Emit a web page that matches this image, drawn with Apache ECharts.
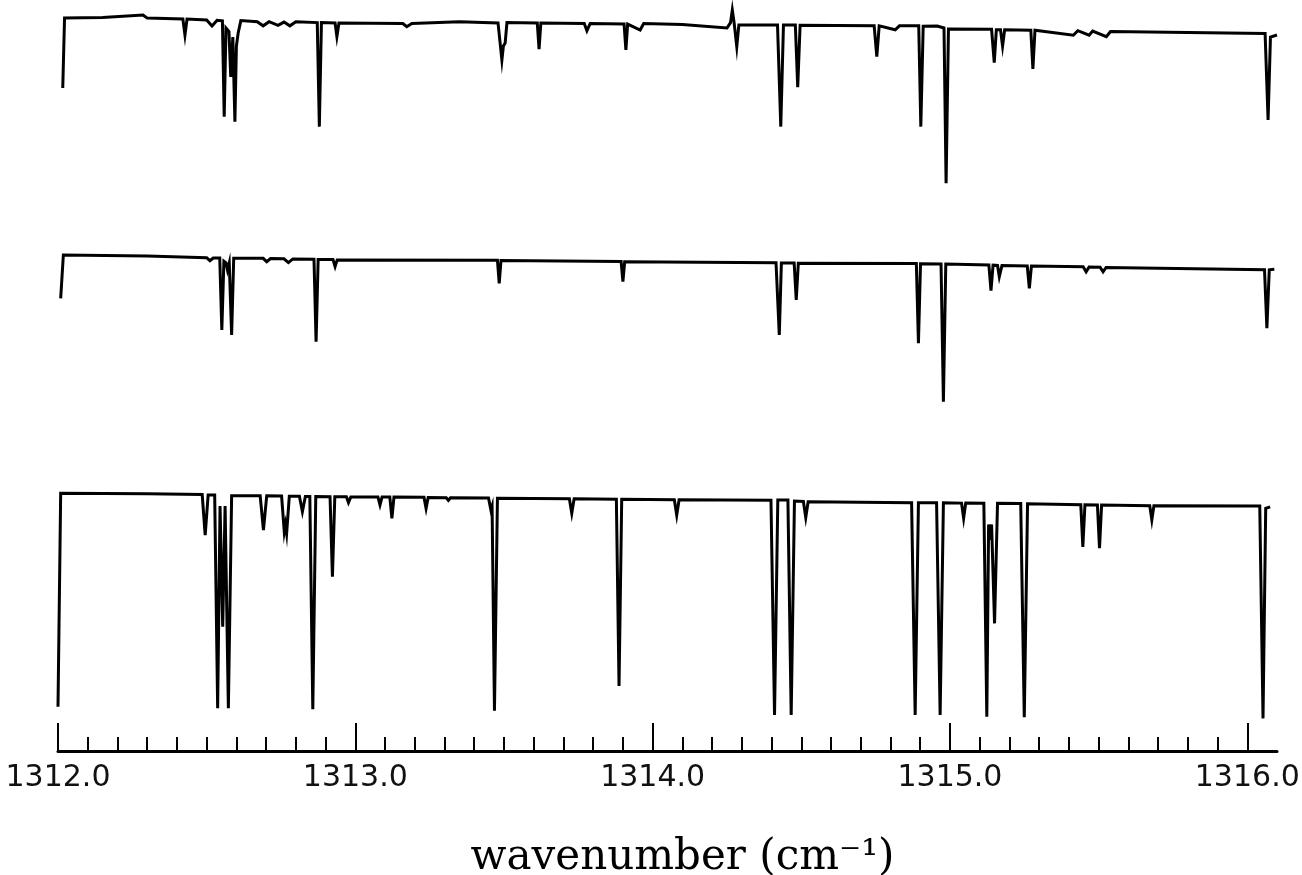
<!DOCTYPE html>
<html>
<head>
<meta charset="utf-8">
<title>wavenumber spectra</title>
<script src="https://cdn.jsdelivr.net/npm/echarts@6.0.0/dist/echarts.min.js"></script>
<style>
  html, body { margin: 0; padding: 0; background: #fff; }
  #main { width: 1302px; height: 875px; }
</style>
</head>
<body>
<div id="main"></div>
<script>
// spectra: [wavenumber, relative transmission]
var topSpectrum = [
  [1312.016, 0.567], [1312.022, 0.956], [1312.15, 0.958], [1312.286, 0.972], [1312.30, 0.955],
  [1312.42, 0.950], [1312.427, 0.861], [1312.434, 0.950], [1312.50, 0.945], [1312.518, 0.911],
  [1312.535, 0.943], [1312.553, 0.940], [1312.559, 0.407], [1312.565, 0.90], [1312.575, 0.88],
  [1312.581, 0.628], [1312.588, 0.85], [1312.595, 0.379], [1312.600, 0.80], [1312.606, 0.872],
  [1312.615, 0.941], [1312.67, 0.935], [1312.69, 0.912], [1312.71, 0.935], [1312.74, 0.915],
  [1312.76, 0.933], [1312.78, 0.912], [1312.80, 0.935], [1312.872, 0.930], [1312.879, 0.352],
  [1312.886, 0.930], [1312.932, 0.928], [1312.938, 0.852], [1312.945, 0.928], [1313.16, 0.925],
  [1313.173, 0.907], [1313.19, 0.925], [1313.35, 0.935], [1313.48, 0.928], [1313.493, 0.722],
  [1313.498, 0.80], [1313.504, 0.817], [1313.51, 0.93], [1313.612, 0.928], [1313.618, 0.782],
  [1313.624, 0.928], [1313.77, 0.925], [1313.779, 0.885], [1313.79, 0.925], [1313.904, 0.922],
  [1313.910, 0.778], [1313.916, 0.922], [1313.958, 0.889], [1313.97, 0.925], [1314.10, 0.92],
  [1314.25, 0.90], [1314.262, 0.93], [1314.268, 1.0], [1314.274, 0.93], [1314.283, 0.796],
  [1314.29, 0.917], [1314.42, 0.917], [1314.431, 0.352], [1314.44, 0.917], [1314.48, 0.917],
  [1314.488, 0.571], [1314.496, 0.915], [1314.745, 0.913], [1314.754, 0.741], [1314.762, 0.912],
  [1314.816, 0.89], [1314.83, 0.912], [1314.895, 0.912], [1314.902, 0.352], [1314.910, 0.910],
  [1314.957, 0.911], [1314.980, 0.900], [1314.987, 0.037], [1314.995, 0.895], [1315.14, 0.893],
  [1315.149, 0.707], [1315.156, 0.890], [1315.170, 0.890], [1315.177, 0.80], [1315.184, 0.890],
  [1315.272, 0.888], [1315.279, 0.672], [1315.286, 0.888], [1315.415, 0.86], [1315.43, 0.885],
  [1315.468, 0.86], [1315.48, 0.883], [1315.526, 0.852], [1315.54, 0.88], [1315.80, 0.875],
  [1316.060, 0.87], [1316.070, 0.389], [1316.078, 0.85], [1316.100, 0.861]
];

var midSpectrum = [
  [1312.009, 0.698], [1312.018, 0.969], [1312.30, 0.962], [1312.50, 0.952], [1312.511, 0.933],
  [1312.522, 0.95], [1312.544, 0.95], [1312.551, 0.50], [1312.558, 0.93], [1312.565, 0.92],
  [1312.570, 0.875], [1312.576, 0.92], [1312.584, 0.469], [1312.591, 0.948], [1312.69, 0.948],
  [1312.702, 0.927], [1312.715, 0.947], [1312.76, 0.945], [1312.775, 0.921], [1312.79, 0.944],
  [1312.861, 0.942], [1312.868, 0.427], [1312.875, 0.940], [1312.925, 0.940], [1312.932, 0.896],
  [1312.939, 0.938], [1313.478, 0.936], [1313.484, 0.792], [1313.490, 0.935], [1313.894, 0.928],
  [1313.900, 0.802], [1313.906, 0.926], [1314.415, 0.92], [1314.426, 0.469], [1314.433, 0.918],
  [1314.476, 0.918], [1314.483, 0.6875], [1314.490, 0.917], [1314.887, 0.915], [1314.894, 0.417],
  [1314.901, 0.914], [1314.970, 0.913], [1314.978, 0.052], [1314.986, 0.912], [1315.131, 0.906],
  [1315.138, 0.746], [1315.145, 0.905], [1315.160, 0.903], [1315.166, 0.833], [1315.175, 0.903],
  [1315.260, 0.900], [1315.267, 0.761], [1315.274, 0.900], [1315.448, 0.895], [1315.458, 0.864],
  [1315.468, 0.894], [1315.505, 0.892], [1315.515, 0.864], [1315.525, 0.891], [1316.058, 0.876],
  [1316.066, 0.511], [1316.074, 0.876], [1316.091, 0.879]
];

var lowSpectrum = [
  [1312.000, 0.058], [1312.009, 0.986], [1312.30, 0.984], [1312.485, 0.980], [1312.495, 0.804],
  [1312.505, 0.978], [1312.527, 0.978], [1312.537, 0.051], [1312.545, 0.93], [1312.554, 0.406],
  [1312.562, 0.93], [1312.573, 0.051], [1312.584, 0.975], [1312.680, 0.975], [1312.691, 0.826],
  [1312.702, 0.975], [1312.752, 0.974], [1312.761, 0.819], [1312.765, 0.85], [1312.769, 0.812],
  [1312.778, 0.973], [1312.812, 0.973], [1312.822, 0.906], [1312.832, 0.972], [1312.847, 0.972],
  [1312.857, 0.047], [1312.867, 0.972], [1312.915, 0.971], [1312.923, 0.623], [1312.931, 0.971],
  [1312.970, 0.971], [1312.977, 0.945], [1312.985, 0.970], [1313.076, 0.970], [1313.083, 0.935],
  [1313.090, 0.970], [1313.116, 0.970], [1313.123, 0.877], [1313.130, 0.969], [1313.231, 0.968],
  [1313.238, 0.920], [1313.245, 0.967], [1313.306, 0.966], [1313.313, 0.955], [1313.320, 0.966],
  [1313.448, 0.965], [1313.456, 0.913], [1313.460, 0.93], [1313.468, 0.040], [1313.478, 0.964],
  [1313.720, 0.962], [1313.728, 0.899], [1313.736, 0.962], [1313.878, 0.960], [1313.887, 0.148],
  [1313.896, 0.960], [1314.073, 0.958], [1314.081, 0.891], [1314.089, 0.958], [1314.398, 0.955],
  [1314.410, 0.022], [1314.421, 0.957], [1314.455, 0.957], [1314.466, 0.022], [1314.477, 0.952],
  [1314.507, 0.950], [1314.515, 0.881], [1314.523, 0.949], [1314.871, 0.945], [1314.883, 0.022],
  [1314.894, 0.945], [1314.955, 0.945], [1314.967, 0.022], [1314.978, 0.944], [1315.039, 0.943],
  [1315.046, 0.877], [1315.053, 0.943], [1315.114, 0.942], [1315.124, 0.014], [1315.130, 0.85],
  [1315.135, 0.783], [1315.140, 0.85], [1315.150, 0.420], [1315.160, 0.942], [1315.238, 0.941],
  [1315.250, 0.012], [1315.261, 0.940], [1315.440, 0.936], [1315.447, 0.753], [1315.454, 0.936],
  [1315.496, 0.935], [1315.503, 0.747], [1315.510, 0.935], [1315.672, 0.932], [1315.679, 0.870],
  [1315.686, 0.932], [1316.042, 0.930], [1316.053, 0.007], [1316.062, 0.92], [1316.077, 0.927]
];

var majorTicks = [1312, 1313, 1314, 1315, 1316];
var minorTicks = [];
for (var t = 1; t <= 40; t++) {
  minorTicks.push(+(1312 + t * 0.1).toFixed(1));
}

var xMin = 1312, xMax = 1316.1;
var gridLeft = 58, gridRight = 25;

function hiddenX(i) {
  return { type: 'value', gridIndex: i, min: xMin, max: xMax, show: false };
}
function hiddenY(i) {
  return { type: 'value', gridIndex: i, min: 0, max: 1, show: false };
}
function trace(data, i) {
  return {
    type: 'line',
    xAxisIndex: i,
    yAxisIndex: i,
    data: data,
    showSymbol: false,
    silent: true,
    clip: false,
    lineStyle: { color: '#000', width: 3, join: 'miter' }
  };
}
function panel(top, height) {
  // outerBoundsMode none: keep the grid where it is, no auto shrinking
  return { left: gridLeft, right: gridRight, top: top, height: height, outerBoundsMode: 'none' };
}

var chart = echarts.init(document.getElementById('main'), null, { renderer: 'canvas' });

var option = {
  animation: false,
  backgroundColor: '#fff',
  grid: [
    panel(10, 180),
    panel(250, 160),
    panel(490, 230),
    // only holds the wavenumber axis
    panel(700, 51)
  ],
  xAxis: [
    hiddenX(0),
    hiddenX(1),
    hiddenX(2),
    {
      type: 'value', gridIndex: 3, min: xMin, max: xMax, position: 'bottom',
      axisLine: { show: true, lineStyle: { color: '#000', width: 3 } },
      axisTick: { show: true, inside: true, length: 14, customValues: minorTicks,
        lineStyle: { color: '#000', width: 2 } },
      axisLabel: { show: false },
      splitLine: { show: false }
    },
    {
      type: 'value', gridIndex: 3, min: xMin, max: xMax, position: 'bottom',
      axisLine: { show: false },
      axisTick: { show: true, inside: true, length: 28, customValues: majorTicks,
        lineStyle: { color: '#000', width: 2 } },
      axisLabel: {
        show: true, customValues: majorTicks, margin: 12,
        fontFamily: 'DejaVu Sans', fontSize: 30, color: '#111',
        formatter: function (v) { return v.toFixed(1); }
      },
      splitLine: { show: false },
      name: 'wavenumber (cm\u207B\u00B9)',
      nameLocation: 'middle',
      nameGap: 86,
      nameTextStyle: {
        fontFamily: 'DejaVu Serif', fontSize: 42, color: '#000',
        padding: [0, 0, 0, 30]
      }
    }
  ],
  yAxis: [hiddenY(0), hiddenY(1), hiddenY(2), hiddenY(3)],
  series: [
    trace(topSpectrum, 0),
    trace(midSpectrum, 1),
    trace(lowSpectrum, 2)
  ]
};

chart.setOption(option);
</script>
</body>
</html>
